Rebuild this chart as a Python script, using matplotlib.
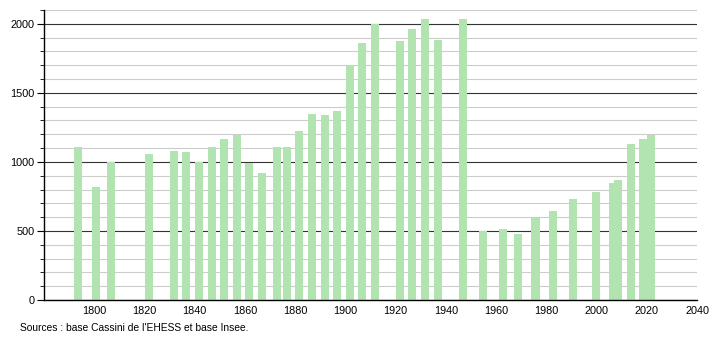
import matplotlib.pyplot as plt
from matplotlib.ticker import MultipleLocator

# Recensements
annees = [1793, 1800, 1806, 1821, 1831, 1836, 1841, 1846, 1851, 1856,
          1861, 1866, 1872, 1876, 1881, 1886, 1891, 1896, 1901, 1906,
          1911, 1921, 1926, 1931, 1936, 1946, 1954, 1962, 1968, 1975,
          1982, 1990, 1999, 2006, 2008, 2013, 2018, 2021]
population = [1105, 817, 999, 1059, 1081, 1069, 999, 1105, 1168, 1192,
              992, 921, 1105, 1110, 1226, 1349, 1340, 1369, 1705, 1864,
              2000, 1872, 1966, 2034, 1881, 2038, 500, 515, 479, 592,
              643, 733, 783, 849, 868, 1132, 1165, 1192]
ticks_x = list(range(1800, 2041, 20))
source = "Sources : base Cassini de l'EHESS et base Insee."


def gerar_grafico():
    plt.rcParams['font.family'] = ['Liberation Sans', 'DejaVu Sans']
    fig = plt.figure(figsize=(7.1, 3.4), dpi=100)
    ax = fig.add_axes([44 / 710, 40 / 340, 653 / 710, 290 / 340])

    ax.bar([a + 0.7 for a in annees], population, width=3.2,
           color='#b2e4b2', zorder=2)

    ax.set_xlim(1780, 2040)
    ax.set_ylim(0, 2100)
    ax.set_xticks(ticks_x)
    ax.yaxis.set_major_locator(MultipleLocator(500))
    ax.yaxis.set_minor_locator(MultipleLocator(100))
    ax.grid(axis='y', which='major', color='#333333', linewidth=0.8, zorder=0)
    ax.grid(axis='y', which='minor', color='#cccccc', linewidth=0.8, zorder=0)
    ax.set_axisbelow(True)

    for s in ['top', 'right']:
        ax.spines[s].set_visible(False)
    ax.spines['left'].set_linewidth(1)
    ax.spines['bottom'].set_linewidth(1)
    ax.tick_params(axis='x', length=0, labelsize=7.8, pad=4)
    ax.tick_params(axis='y', which='major', length=5, labelsize=7.8, pad=2)
    ax.tick_params(axis='y', which='minor', length=3)

    fig.text(20 / 710, 1 - 328 / 340, source, fontsize=7.4, va='center')

    fig.savefig('out.png', dpi=100)


if __name__ == "__main__":
    gerar_grafico()
